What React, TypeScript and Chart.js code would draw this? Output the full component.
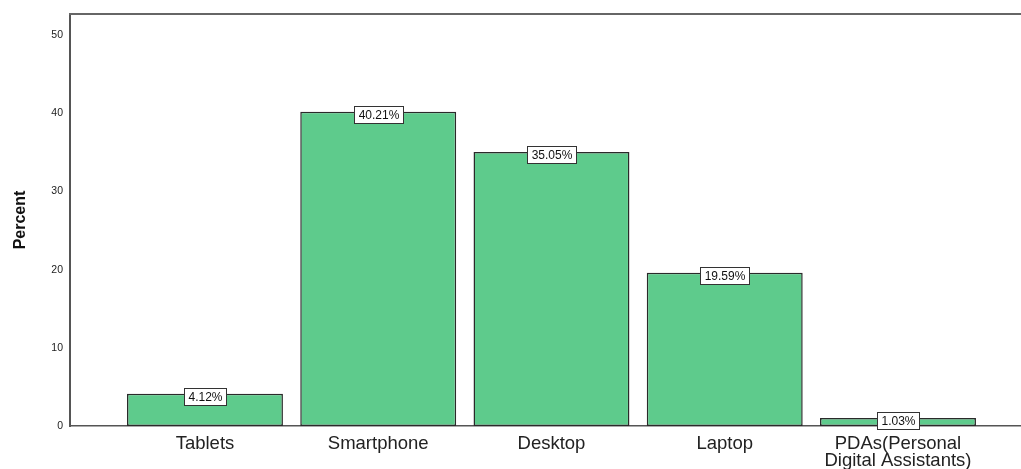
import React, { useEffect, useRef } from "react";
import { Chart, registerables } from "chart.js";

Chart.register(...registerables);

const categories: (string | string[])[] = [
  "Tablets",
  "Smartphone",
  "Desktop",
  "Laptop",
  ["PDAs(Personal", "Digital Assistants)"],
];
const percents = [4.12, 40.21, 35.05, 19.59, 1.03];
const yTickValues = [0, 10, 20, 30, 40, 50];

const FONT = "'Liberation Sans', Arial, sans-serif";

const boxLabels = {
  id: "boxLabels",
  afterDatasetsDraw(chart: any) {
    const ctx = chart.ctx;
    const meta = chart.getDatasetMeta(0);
    ctx.save();
    ctx.font = `12px ${FONT}`;
    ctx.textAlign = "center";
    ctx.textBaseline = "middle";
    meta.data.forEach((el: any, i: number) => {
      const txt = percents[i].toFixed(2) + "%";
      const w = Math.round(ctx.measureText(txt).width + 8);
      const h = 17;
      const left = Math.round(el.x - w / 2) + 0.5;
      const top = Math.round(el.y + 3 - h / 2) + 0.5;
      ctx.fillStyle = "#ffffff";
      ctx.fillRect(left, top, w, h);
      ctx.strokeStyle = "#333333";
      ctx.lineWidth = 1;
      ctx.strokeRect(left, top, w, h);
      ctx.fillStyle = "#111111";
      ctx.fillText(txt, left + w / 2, top + h / 2 + 0.5);
    });
    ctx.restore();
  },
};

const topBorder = {
  id: "topBorder",
  afterDraw(chart: any) {
    const { ctx, chartArea } = chart;
    ctx.save();
    ctx.strokeStyle = "#666666";
    ctx.lineWidth = 2;
    ctx.beginPath();
    ctx.moveTo(chartArea.left - 1, chartArea.top);
    ctx.lineTo(chartArea.right, chartArea.top);
    ctx.stroke();
    ctx.restore();
  },
};

export default function App() {
  const ref = useRef<HTMLCanvasElement | null>(null);

  useEffect(() => {
    if (!ref.current) return;
    const chart = new Chart(ref.current, {
      type: "bar",
      data: {
        datasets: [
          {
            label: "Percent",
            data: percents.map((v, i) => ({ x: i, y: v })),
            backgroundColor: "#5ECB8C",
            borderColor: "#2a2a2a",
            borderWidth: 1.5,
            borderSkipped: false,
            categoryPercentage: 1,
            barPercentage: 0.9,
          } as any,
        ],
      },
      options: {
        animation: false,
        responsive: false,
        devicePixelRatio: 1,
        layout: { padding: { top: 14, right: 0, left: 0, bottom: 0 } },
        plugins: {
          legend: { display: false },
          tooltip: { enabled: false },
        },
        scales: {
          x: {
            type: "linear",
            offset: false,
            min: -0.779,
            max: 4.71,
            grid: { display: false, drawTicks: false, offset: false },
            border: { display: true, color: "#555555", width: 1.5 },
            afterBuildTicks: (scale: any) => {
              scale.ticks = categories.map((_, i) => ({ value: i }));
            },
            afterFit: (scale: any) => {
              scale.height = 43;
            },
            ticks: {
              autoSkip: false,
              maxRotation: 0,
              minRotation: 0,
              padding: 10,
              color: "#222222",
              font: { family: FONT, size: 18.5, lineHeight: 0.9 },
              callback: (v: any) => categories[v as number] as any,
            },
          },
          y: {
            min: 0,
            max: 52.7,
            grid: { display: false, drawTicks: false },
            border: { display: true, color: "#555555", width: 2 },
            afterBuildTicks: (scale: any) => {
              scale.ticks = yTickValues.map((v) => ({ value: v }));
            },
            afterFit: (scale: any) => {
              scale.width = 70;
            },
            ticks: {
              padding: 7,
              color: "#222222",
              font: { family: FONT, size: 10.5 },
            },
            title: {
              display: true,
              text: "Percent",
              color: "#111111",
              font: { family: FONT, size: 16, weight: "bold" },
              padding: { top: 11, bottom: 0 },
            },
          },
        },
      },
      plugins: [boxLabels, topBorder],
    });
    return () => chart.destroy();
  }, []);

  return (
    <div style={{ position: "fixed", left: 0, top: 0, width: 1021, height: 469, background: "#fff" }}>
      <canvas ref={ref} width={1021} height={469} style={{ display: "block" }} />
    </div>
  );
}
